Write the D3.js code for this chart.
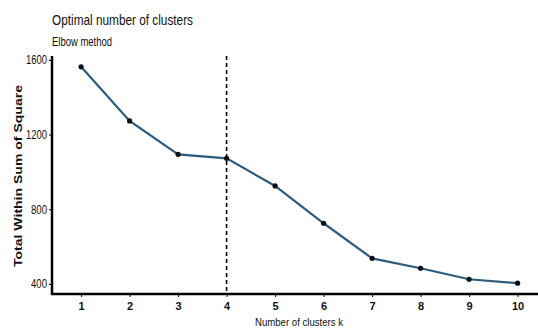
<!DOCTYPE html>
<html>
<head>
<meta charset="utf-8">
<script src="https://cdn.jsdelivr.net/npm/d3@7"></script>
<style>
  body { margin: 0; background: #fff; }
  text { font-family: "Liberation Sans", Arial, sans-serif; fill: #111; }
</style>
</head>
<body>
<svg id="chart" width="538" height="334"></svg>
<script>
// elbow plot data
var clusters = [1, 2, 3, 4, 5, 6, 7, 8, 9, 10];
var wss = [1563, 1273, 1094, 1073, 925, 725, 537, 484, 425, 404];
var yTicks = [400, 800, 1200, 1600];
var optimalK = 4;

var svg = d3.select("#chart");

var x = d3.scaleLinear()
    .domain([0.4, 10.6])
    .range([52, 546.7]);

var y = d3.scaleLinear()
    .domain([346, 1621])
    .range([294, 56]);

// titles
svg.append("text")
    .attr("x", 52).attr("y", 25)
    .attr("font-size", 15)
    .attr("textLength", 141).attr("lengthAdjust", "spacingAndGlyphs")
    .text("Optimal number of clusters");

svg.append("text")
    .attr("x", 52).attr("y", 46)
    .attr("font-size", 12)
    .attr("textLength", 60).attr("lengthAdjust", "spacingAndGlyphs")
    .text("Elbow method");

// y axis
var yAxis = svg.append("g")
    .attr("transform", "translate(52,0)")
    .call(d3.axisLeft(y).tickValues(yTicks).tickFormat(d3.format("d")).tickSize(3).tickPadding(2));
yAxis.select(".domain").remove();
yAxis.selectAll("text")
    .attr("font-size", 12)
    .attr("textLength", 21).attr("lengthAdjust", "spacingAndGlyphs");
yAxis.selectAll("text").filter(function (d) { return d < 1000; })
    .attr("textLength", 16);

// x axis
var xAxis = svg.append("g")
    .attr("transform", "translate(0,294)")
    .call(d3.axisBottom(x).tickValues(clusters).tickFormat(d3.format("d")).tickSize(3).tickPadding(5));
xAxis.select(".domain").remove();
xAxis.selectAll("text").attr("font-size", 11).attr("font-weight", "bold");

// axis lines
svg.append("path")
    .attr("d", "M52," + y.range()[1] + "V294H538")
    .attr("fill", "none")
    .attr("stroke", "#000")
    .attr("stroke-width", 2.5);

// axis titles
svg.append("text")
    .attr("transform", "translate(22,176) rotate(-90)")
    .attr("text-anchor", "middle")
    .attr("font-size", 10.5).attr("font-weight", "bold")
    .attr("textLength", 182).attr("lengthAdjust", "spacingAndGlyphs")
    .text("Total Within Sum of Square");

svg.append("text")
    .attr("x", 255).attr("y", 326)
    .attr("font-size", 11)
    .attr("textLength", 88).attr("lengthAdjust", "spacingAndGlyphs")
    .text("Number of clusters k");

// optimal k marker
svg.append("line")
    .attr("x1", x(optimalK)).attr("x2", x(optimalK))
    .attr("y1", y.range()[1]).attr("y2", 294)
    .attr("stroke", "#000")
    .attr("stroke-width", 1.6)
    .attr("stroke-dasharray", "4,3");

// the curve
var line = d3.line()
    .x(function (d, i) { return x(clusters[i]); })
    .y(function (d) { return y(d); });

svg.append("path")
    .datum(wss)
    .attr("d", line)
    .attr("fill", "none")
    .attr("stroke", "#2d5b7c")
    .attr("stroke-width", 2.2);

svg.selectAll("circle.pt")
    .data(wss)
    .enter().append("circle")
    .attr("class", "pt")
    .attr("cx", function (d, i) { return x(clusters[i]); })
    .attr("cy", function (d) { return y(d); })
    .attr("r", 2.6)
    .attr("fill", "#0a0f14");
</script>
</body>
</html>
